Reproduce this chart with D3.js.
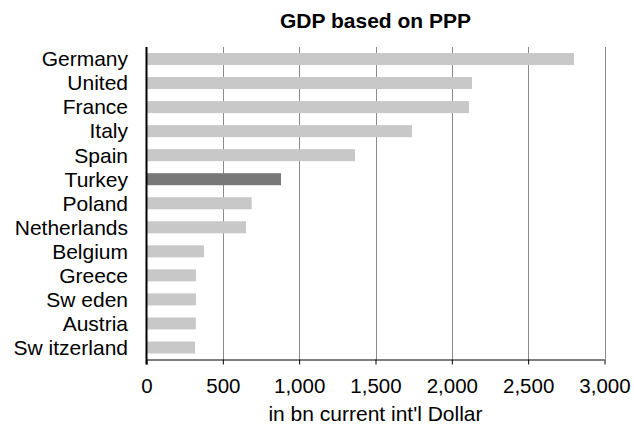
<!DOCTYPE html>
<html>
<head>
<meta charset="utf-8">
<script src="https://cdn.jsdelivr.net/npm/d3@7"></script>
<style>
  html, body { margin: 0; padding: 0; background: #fff; }
  svg text { font-family: "Liberation Sans", Arial, sans-serif; fill: #000; }
</style>
</head>
<body>
<svg id="chart" width="634" height="433"></svg>
<script>
// GDP (PPP), bn current international dollars
const countries = ["Germany", "United", "France", "Italy", "Spain", "Turkey", "Poland",
                   "Netherlands", "Belgium", "Greece", "Sw eden", "Austria", "Sw itzerland"];
const gdp = [2800, 2132, 2112, 1739, 1366, 881, 689, 652, 377, 324, 324, 323, 318];
const highlight = ["Turkey"];
const xTicks = [0, 500, 1000, 1500, 2000, 2500, 3000];

const title = "GDP based on PPP";
const xTitle = "in bn current int'l Dollar";

const svg = d3.select("#chart");
const plotLeft = 146.5, plotRight = 604.5, plotTop = 47, plotBottom = 359.5;

const x = d3.scaleLinear().domain([0, 3000]).range([plotLeft, plotRight]);
const y = d3.scaleBand().domain(countries).range([plotTop, plotBottom]).paddingInner(0.5).paddingOuter(0.25);

// vertical gridlines
svg.append("g")
  .selectAll("line")
  .data(xTicks.slice(1))
  .join("line")
  .attr("x1", d => Math.round(x(d)) + 0.5)
  .attr("x2", d => Math.round(x(d)) + 0.5)
  .attr("y1", plotTop)
  .attr("y2", plotBottom)
  .attr("stroke", "#8a8a8a")
  .attr("stroke-width", 1);

// bars
svg.append("g")
  .selectAll("rect")
  .data(countries.map((c, i) => ({ c, v: gdp[i] })))
  .join("rect")
  .attr("x", x(0))
  .attr("y", d => y(d.c))
  .attr("width", d => x(d.v) - x(0))
  .attr("height", y.bandwidth())
  .attr("fill", d => highlight.includes(d.c) ? "#787878" : "#c8c8c8");

// x axis
const xAxis = d3.axisBottom(x)
  .tickValues(xTicks)
  .tickSize(5)
  .tickPadding(14)
  .tickFormat(d3.format(","));
const gx = svg.append("g")
  .attr("transform", `translate(0,${plotBottom})`)
  .call(xAxis);
gx.select(".domain").attr("stroke", "#000").attr("d", `M${plotLeft},0.5H${plotRight}`);
gx.selectAll(".tick line").attr("stroke", "#000");
gx.selectAll(".tick text")
  .style("font-size", "20.5px")
  .attr("fill", "#000");

// y axis line
svg.append("line")
  .attr("x1", plotLeft)
  .attr("x2", plotLeft)
  .attr("y1", plotTop)
  .attr("y2", plotBottom + 5)
  .attr("stroke", "#000")
  .attr("stroke-width", 2);

// category labels
svg.append("g")
  .selectAll("text")
  .data(countries)
  .join("text")
  .attr("x", 128)
  .attr("y", d => y(d) + y.bandwidth() / 2)
  .attr("dy", "0.35em")
  .attr("text-anchor", "end")
  .style("font-size", "21px")
  .text(d => d);

// title
svg.append("text")
  .attr("x", (plotLeft + plotRight) / 2)
  .attr("y", 27.5)
  .attr("text-anchor", "middle")
  .style("font-size", "21px")
  .style("font-weight", "bold")
  .text(title);

// x axis title
svg.append("text")
  .attr("x", (plotLeft + plotRight) / 2)
  .attr("y", 421)
  .attr("text-anchor", "middle")
  .style("font-size", "21px")
  .text(xTitle);
</script>
</body>
</html>
